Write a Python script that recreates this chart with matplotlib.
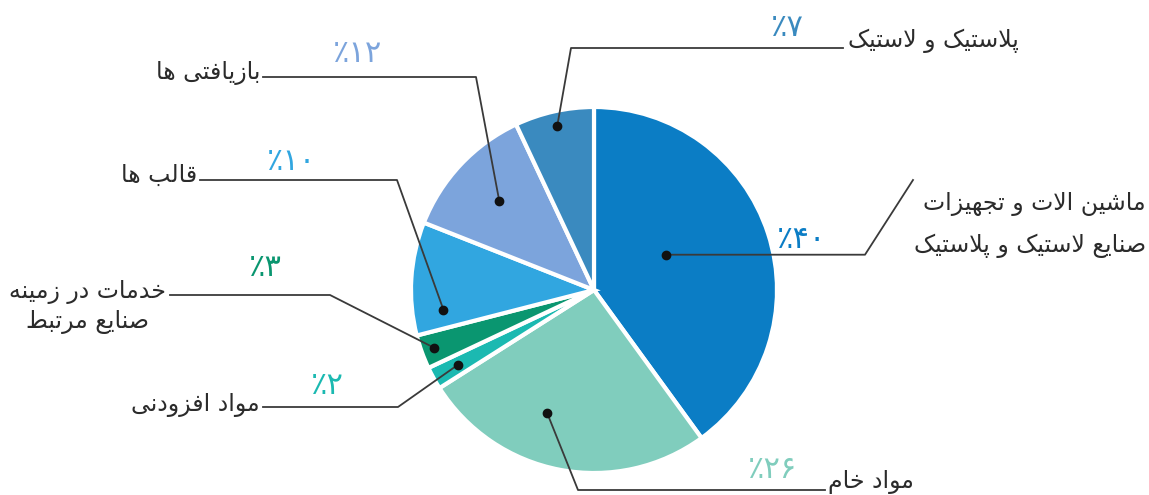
import numpy as np
import matplotlib
matplotlib.use('Agg')
from matplotlib import pyplot as plt

# data, clockwise from the top
labels = ['ماشین الات و تجهیزات\nصنایع لاستیک و پلاستیک', 'مواد خام', 'مواد افزودنی',
          'خدمات در زمینه\nصنایع مرتبط', 'قالب ها', 'بازیافتی ها', 'پلاستیک و لاستیک']
values = [40, 26, 2, 3, 10, 12, 7]
pct_text = ['٪۴۰', '٪۲۶', '٪۲', '٪۳', '٪۱۰', '٪۱۲', '٪۷']
colors = ['#0b7dc5', '#80cdbd', '#1bb9b1', '#0a9670', '#31a6e0', '#7ca4dc', '#3a8abf']

# layout (pixel coords of the 1149x495 canvas)
cx, cy, R = 594, 290, 183
dot_r = [0.44, 0.72, 0.85, 0.93, 0.83, 0.71, 0.92]
dot_da = [-8, 10, 0, 0, -11, 0, 0]
elbows = [[(865, None), (913, 180)], [(578, 490), (825, 490)], [(398, 407), (263, 407)],
          [(330, 295), (170, 295)], [(397, 180), (200, 180)], [(476, 77), (263, 77)],
          [(571, 48), (843, 48)]]
lab_pos = [(1146, 225, 'right'), (828, 482, 'left'), (260, 405, 'right'), (87, 307, 'center'),
           (197, 175, 'right'), (260, 73, 'right'), (848, 41, 'left')]
lab_ls = [1.85, 1, 1, 1.3, 1, 1, 1]
pct_pos = [(787, 28), (773, 470), (327, 385), (265, 267), (292, 162), (358, 54), (787, 28)]
pct_pos[0] = (802, 240)

# simple persian shaping: presentation forms (isolated, final, initial, medial)
FORMS = {
    'ا': (0xFE8D, 0xFE8E, None, None), 'ب': (0xFE8F, 0xFE90, 0xFE91, 0xFE92),
    'پ': (0xFB56, 0xFB57, 0xFB58, 0xFB59), 'ت': (0xFE95, 0xFE96, 0xFE97, 0xFE98),
    'ج': (0xFE9D, 0xFE9E, 0xFE9F, 0xFEA0), 'خ': (0xFEA5, 0xFEA6, 0xFEA7, 0xFEA8),
    'د': (0xFEA9, 0xFEAA, None, None), 'ر': (0xFEAD, 0xFEAE, None, None),
    'ز': (0xFEAF, 0xFEB0, None, None), 'س': (0xFEB1, 0xFEB2, 0xFEB3, 0xFEB4),
    'ش': (0xFEB5, 0xFEB6, 0xFEB7, 0xFEB8), 'ص': (0xFEB9, 0xFEBA, 0xFEBB, 0xFEBC),
    'ط': (0xFEC1, 0xFEC2, 0xFEC3, 0xFEC4), 'ع': (0xFEC9, 0xFECA, 0xFECB, 0xFECC),
    'ف': (0xFED1, 0xFED2, 0xFED3, 0xFED4), 'ق': (0xFED5, 0xFED6, 0xFED7, 0xFED8),
    'ک': (0xFB8E, 0xFB8F, 0xFB90, 0xFB91), 'ل': (0xFEDD, 0xFEDE, 0xFEDF, 0xFEE0),
    'م': (0xFEE1, 0xFEE2, 0xFEE3, 0xFEE4), 'ن': (0xFEE5, 0xFEE6, 0xFEE7, 0xFEE8),
    'ه': (0xFEE9, 0xFEEA, 0xFEEB, 0xFEEC), 'و': (0xFEED, 0xFEEE, None, None),
    'ی': (0xFBFC, 0xFBFD, 0xFBFE, 0xFBFF),
    'LA': (0xFEFB, 0xFEFC, None, None),
}

def shape_line(s):
    toks = []
    i = 0
    while i < len(s):
        if s[i] == 'ل' and i + 1 < len(s) and s[i + 1] == 'ا':
            toks.append('LA'); i += 2
        else:
            toks.append(s[i]); i += 1
    out = []
    for k, t in enumerate(toks):
        if t not in FORMS:
            out.append(t); continue
        f = FORMS[t]
        prev = toks[k - 1] if k > 0 else None
        nxt = toks[k + 1] if k + 1 < len(toks) else None
        jp = prev in FORMS and FORMS[prev][2] is not None
        jn = f[2] is not None and nxt in FORMS
        if jp and jn:
            c = f[3]
        elif jp:
            c = f[1]
        elif jn:
            c = f[2]
        else:
            c = f[0]
        out.append(chr(c))
    return ''.join(out[::-1])

def shape(s):
    return '\n'.join(shape_line(l) for l in s.split('\n'))

plt.rcParams['font.family'] = ['DejaVu Sans']
fig = plt.figure(figsize=(11.49, 4.95), dpi=100)
ax = fig.add_axes([0, 0, 1, 1])

# y axis is flipped, so data ccw draws clockwise on screen
wedges, _ = ax.pie(values, colors=colors, startangle=-90, counterclock=True,
                   center=(cx, cy), radius=R, frame=True,
                   wedgeprops=dict(edgecolor='white', linewidth=3))
ax.set_xlim(0, 1149)
ax.set_ylim(495, 0)
ax.set_aspect('equal')
ax.axis('off')

for i, w in enumerate(wedges):
    a = np.deg2rad((w.theta1 + w.theta2) / 2 + dot_da[i])
    dx = cx + R * dot_r[i] * np.cos(a)
    dy = cy + R * dot_r[i] * np.sin(a)
    pts = [(dx, dy)]
    for ex, ey in elbows[i]:
        pts.append((ex, dy if ey is None else ey))
    xs, ys = zip(*pts)
    ax.plot(xs, ys, color='#3a3a3a', lw=1.3, zorder=5)
    ax.plot(dx, dy, 'o', color='#111111', ms=6, zorder=6)
    lx, ly, ha = lab_pos[i]
    ax.text(lx, ly, shape(labels[i]), ha=ha, va='center', multialignment=ha if ha != 'left' else 'right',
            fontsize=17, color='#2b2b2b', linespacing=lab_ls[i])
    px, py = pct_pos[i]
    ax.text(px, py, pct_text[i], ha='center', va='center', fontsize=22, color=colors[i])

fig.savefig('out.png', dpi=100, facecolor='white')
